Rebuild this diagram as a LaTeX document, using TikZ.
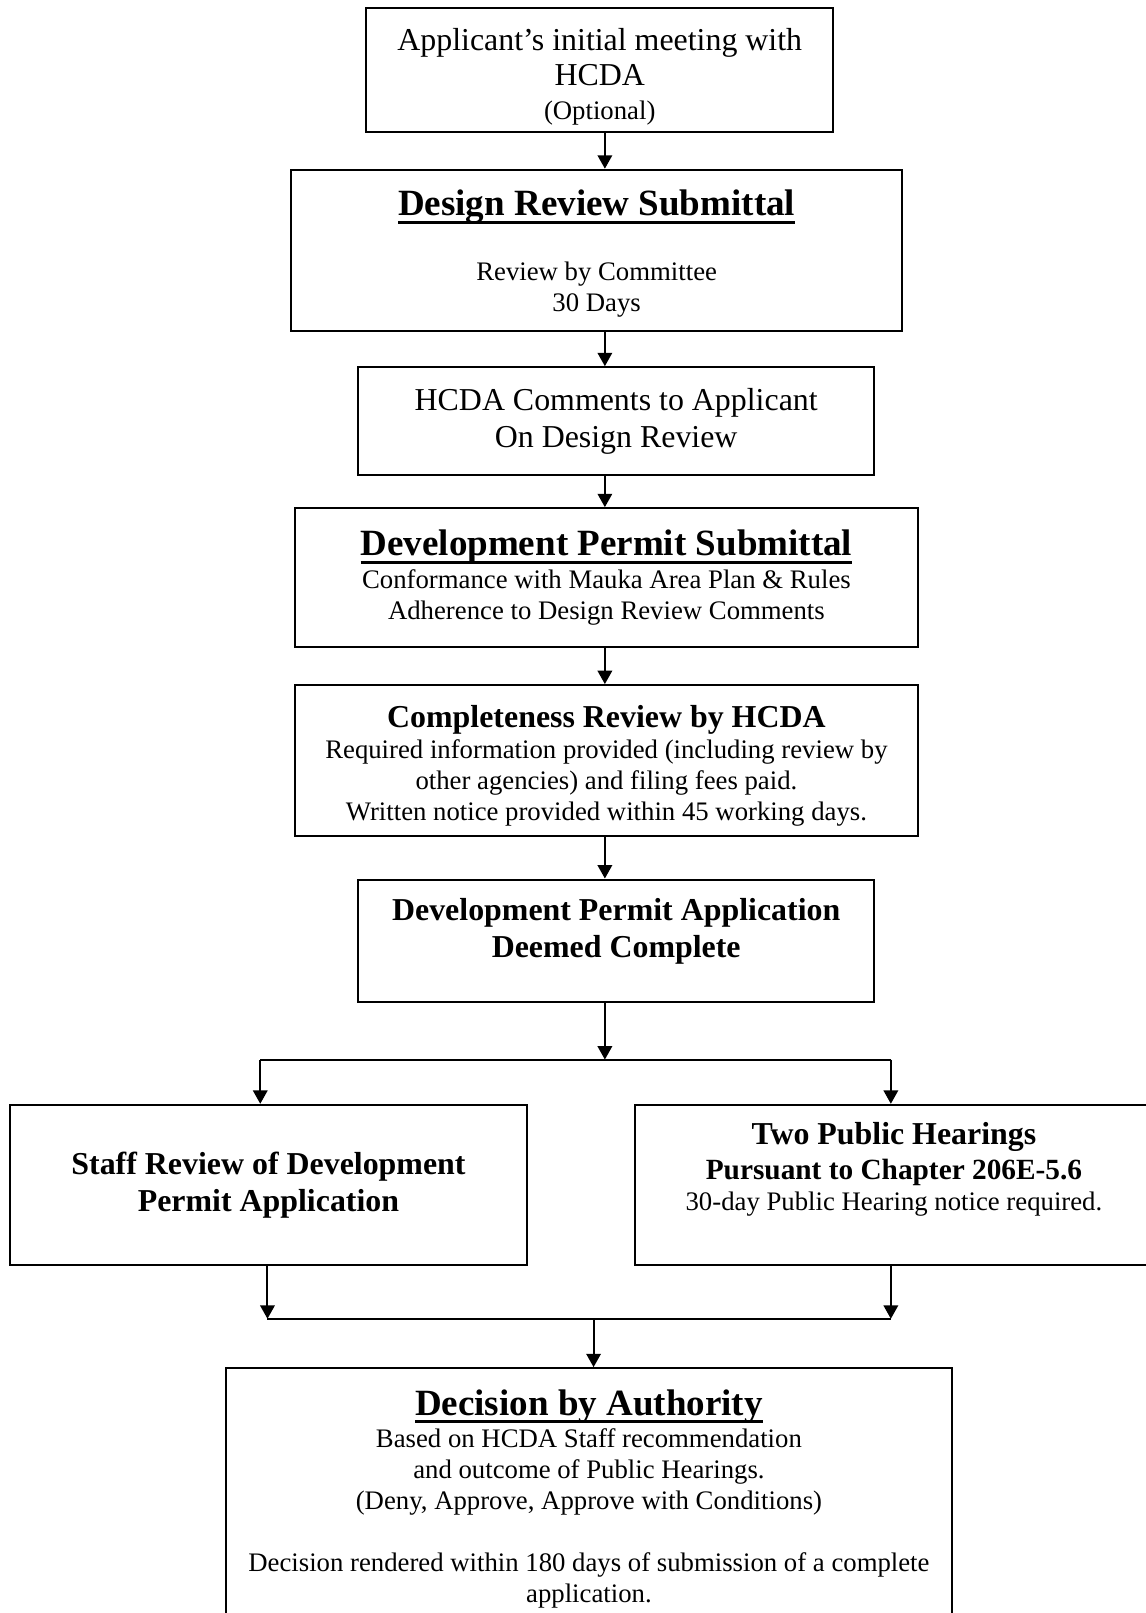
\documentclass[tikz,border=0pt]{standalone}
\usepackage{fontspec}
\setmainfont{Liberation Serif}
\usetikzlibrary{arrows.meta}
\newcommand{\titlesz}{\fontsize{18}{21}\selectfont\bfseries}
\newcommand{\midsz}{\fontsize{15.5}{18}\selectfont}
\newcommand{\smallsz}{\fontsize{13}{15}\selectfont}
\newcommand{\uln}[1]{\leavevmode\setbox0=\hbox{#1}\rlap{\rule[-3.9pt]{\wd0}{1.6pt}}\box0}
\newcommand{\padtop}[1]{\raisebox{#1}{\vphantom{lg}}}
\newcommand{\padbot}[1]{\raisebox{-#1}{\vphantom{lg}}}
\begin{document}
\begin{tikzpicture}[x=0.5pt, y=-0.5pt,
  box/.style = {shape=rectangle, draw, line width=1pt,
    align=center, inner sep=2pt},
  arr/.style = {-{Triangle[length=6.5pt, width=7pt]}, line width=1pt},
  wire/.style = {line width=1pt}]
  \useasboundingbox (0,0) rectangle (1114,1568);
  \clip (0,0) rectangle (1114,1568);
  \node[box, font=\midsz, minimum width=227pt, minimum height=60pt] (appl) at (583,68)
    {\padtop{6.5pt}Applicant's initial meeting with\\[-1pt]HCDA\\[-1.5pt]{\smallsz (Optional)}};
  \node[box, font=\smallsz, minimum width=297pt, minimum height=78.5pt] (drs) at (580,243.5)
    {{\titlesz\padtop{3pt}\uln{Design Review Submittal}}\\[16.4pt]Review by Committee\\30 Days};
  \node[box, font=\midsz, minimum width=251pt, minimum height=52.5pt] (cmt) at (599,409.5)
    {HCDA Comments to Applicant\\On Design Review};
  \node[box, font=\smallsz, minimum width=302.5pt, minimum height=67.5pt] (dps) at (589.5,561.5)
    {{\titlesz\uln{Development Permit Submittal}}\\[0.8pt]Conformance with Mauka Area Plan \& Rules\\Adherence to Design Review Comments};
  \node[box, font=\smallsz, minimum width=302.5pt, minimum height=73.5pt] (crv) at (589.5,739.5)
    {{\midsz\bfseries\padtop{5pt}Completeness Review by HCDA}\\Required information provided (including review by\\other agencies) and filing fees paid.\\Written notice provided within 45 working days.};
  \node[box, font=\midsz\bfseries, minimum width=251pt, minimum height=59.5pt] (dpa) at (599,914.5)
    {Development Permit Application\\Deemed Complete\padbot{9pt}};
  \node[box, font=\midsz\bfseries, minimum width=251pt, minimum height=78pt] (staff) at (261,1152)
    {Staff Review of Development\\Permit Application};
  \node[box, font=\smallsz, minimum width=252pt, minimum height=78pt] (hear) at (869,1152)
    {{\midsz\bfseries Two Public Hearings}\\[2pt]{\fontsize{14.25}{16}\selectfont\bfseries Pursuant to Chapter 206E-5.6}\\30-day Public Hearing notice required.\padbot{15pt}};
  \node[box, font=\smallsz, minimum width=352.5pt, minimum height=134pt] (dec) at (572.5,1464)
    {{\titlesz\uln{Decision by Authority}}\\[0.8pt]Based on HCDA Staff recommendation\\and outcome of Public Hearings.\\(Deny, Approve, Approve with Conditions)\\[15pt]Decision rendered within 180 days of submission of a complete\\application.\padbot{7pt}};
  \coordinate (spine) at (588,0);
  \coordinate (split) at (588,1030);
  \coordinate (splitL) at (253,1030);
  \coordinate (splitR) at (866,1030);
  \coordinate (merge) at (577,1282);
  \coordinate (mergeL) at (260,1282);
  \coordinate (mergeR) at (866,1282);
  \draw[arr] (appl.south -| spine) -- (drs.north -| spine);
  \draw[arr] (drs.south -| spine) -- (cmt.north -| spine);
  \draw[arr] (cmt.south -| spine) -- (dps.north -| spine);
  \draw[arr] (dps.south -| spine) -- (crv.north -| spine);
  \draw[arr] (crv.south -| spine) -- (dpa.north -| spine);
  \draw[arr] (dpa.south -| spine) -- (split);
  \draw[wire] (splitL) -- (splitR);
  \draw[arr] (splitL) -- (staff.north -| splitL);
  \draw[arr] (splitR) -- (hear.north -| splitR);
  \draw[arr] (staff.south -| mergeL) -- (mergeL);
  \draw[arr] (hear.south -| mergeR) -- (mergeR);
  \draw[wire] (mergeL) -- (mergeR);
  \draw[arr] (merge) -- (dec.north -| merge);
\end{tikzpicture}
\end{document}
